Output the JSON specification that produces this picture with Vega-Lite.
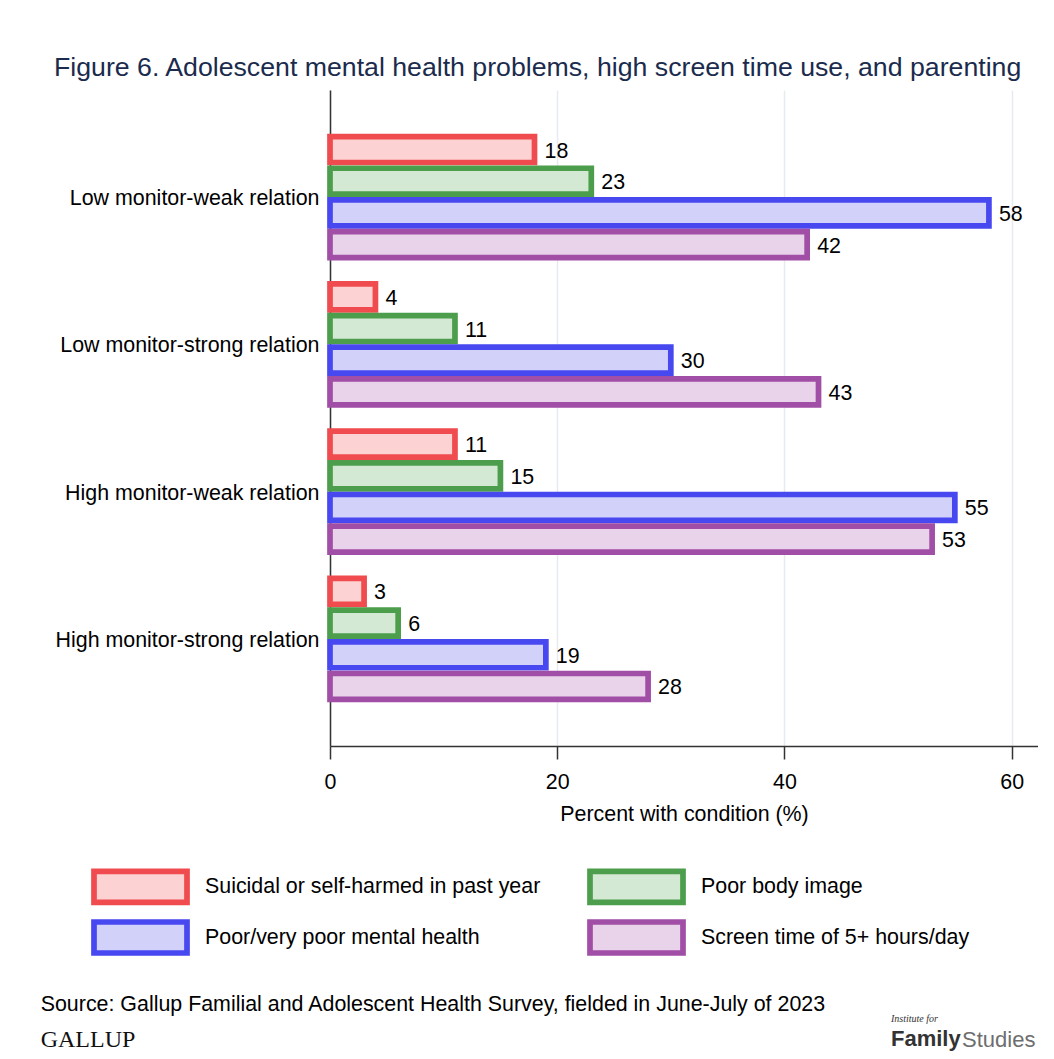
{
  "$schema": "https://vega.github.io/schema/vega-lite/v6.json",
  "background": "white",
  "padding": {"left": 40, "top": 55, "right": 0, "bottom": 0},
  "title": {
    "text": "Figure 6. Adolescent mental health problems, high screen time use, and parenting",
    "anchor": "start",
    "frame": "group",
    "dx": -276,
    "offset": 8,
    "font": "Liberation Sans",
    "fontSize": 26.7,
    "fontWeight": "normal",
    "color": "#1b2b4d"
  },
  "bounds": "flush",
  "spacing": 238,
  "vconcat": [
    {
      "width": 708,
      "height": 656,
      "data": {
        "values": [
          {"parenting": "Low monitor-weak relation", "condition": "Suicidal or self-harmed in past year", "percent": 18},
          {"parenting": "Low monitor-weak relation", "condition": "Poor body image", "percent": 23},
          {"parenting": "Low monitor-weak relation", "condition": "Poor/very poor mental health", "percent": 58},
          {"parenting": "Low monitor-weak relation", "condition": "Screen time of 5+ hours/day", "percent": 42},
          {"parenting": "Low monitor-strong relation", "condition": "Suicidal or self-harmed in past year", "percent": 4},
          {"parenting": "Low monitor-strong relation", "condition": "Poor body image", "percent": 11},
          {"parenting": "Low monitor-strong relation", "condition": "Poor/very poor mental health", "percent": 30},
          {"parenting": "Low monitor-strong relation", "condition": "Screen time of 5+ hours/day", "percent": 43},
          {"parenting": "High monitor-weak relation", "condition": "Suicidal or self-harmed in past year", "percent": 11},
          {"parenting": "High monitor-weak relation", "condition": "Poor body image", "percent": 15},
          {"parenting": "High monitor-weak relation", "condition": "Poor/very poor mental health", "percent": 55},
          {"parenting": "High monitor-weak relation", "condition": "Screen time of 5+ hours/day", "percent": 53},
          {"parenting": "High monitor-strong relation", "condition": "Suicidal or self-harmed in past year", "percent": 3},
          {"parenting": "High monitor-strong relation", "condition": "Poor body image", "percent": 6},
          {"parenting": "High monitor-strong relation", "condition": "Poor/very poor mental health", "percent": 19},
          {"parenting": "High monitor-strong relation", "condition": "Screen time of 5+ hours/day", "percent": 28}
        ]
      },
      "encoding": {
        "y": {
          "field": "parenting",
          "type": "nominal",
          "sort": ["Low monitor-weak relation", "Low monitor-strong relation", "High monitor-weak relation", "High monitor-strong relation"],
          "scale": {"paddingInner": 0.14, "paddingOuter": 0.2967},
          "axis": {
            "title": null,
            "ticks": false,
            "labelPadding": 11,
            "labelOffset": 2,
            "labelFont": "Liberation Sans",
            "labelFontSize": 21.4,
            "labelColor": "#000000",
            "labelLimit": 0,
            "domainColor": "#333333",
            "domainWidth": 1.5,
            "grid": false
          }
        },
        "yOffset": {
          "field": "condition",
          "type": "nominal",
          "sort": ["Suicidal or self-harmed in past year", "Poor body image", "Poor/very poor mental health", "Screen time of 5+ hours/day"],
          "scale": {"paddingInner": 0.18, "paddingOuter": 0.09}
        },
        "x": {
          "field": "percent",
          "type": "quantitative",
          "scale": {"domain": [0, 62.32], "nice": false},
          "axis": {
            "values": [0, 20, 40, 60],
            "title": "Percent with condition (%)",
            "titleFont": "Liberation Sans",
            "titleFontSize": 21.4,
            "titleFontWeight": "normal",
            "titleColor": "#000000",
            "titlePadding": 11,
            "labelFont": "Liberation Sans",
            "labelFontSize": 21.4,
            "labelColor": "#000000",
            "labelPadding": 12,
            "labelFlush": false,
            "tickSize": 13,
            "tickColor": "#333333",
            "tickWidth": 1.5,
            "domainColor": "#333333",
            "domainWidth": 1.5,
            "grid": true,
            "gridColor": "#e6ebf1",
            "gridWidth": 1.5
          }
        }
      },
      "layer": [
        {
          "mark": {"type": "bar", "strokeWidth": 5.7},
          "encoding": {
            "fill": {
              "field": "condition",
              "type": "nominal",
              "scale": {
                "domain": ["Suicidal or self-harmed in past year", "Poor body image", "Poor/very poor mental health", "Screen time of 5+ hours/day"],
                "range": ["#fdd2d3", "#d4e9d4", "#d1d1fa", "#e9d3ea"]
              },
              "legend": {
                "title": null,
                "orient": "none",
                "legendX": -208,
                "legendY": 778,
                "direction": "horizontal",
                "columns": 2,
                "symbolType": "M-3,-1H3V1H-3Z",
                "symbolSize": 961,
                "symbolStrokeWidth": 5.7,
                "symbolOpacity": 1,
                "labelFont": "Liberation Sans",
                "labelFontSize": 21.4,
                "labelColor": "#000000",
                "labelOffset": 46,
                "labelLimit": 0,
                "rowPadding": -4,
                "columnPadding": 37
              }
            },
            "stroke": {
              "field": "condition",
              "type": "nominal",
              "scale": {
                "domain": ["Suicidal or self-harmed in past year", "Poor body image", "Poor/very poor mental health", "Screen time of 5+ hours/day"],
                "range": ["#f04b4e", "#4c9e4c", "#4848f0", "#a14ea6"]
              }
            }
          }
        },
        {
          "mark": {"type": "text", "align": "left", "baseline": "middle", "dx": 10, "dy": 2, "font": "Liberation Sans", "fontSize": 21.4, "color": "#000000"},
          "encoding": {"text": {"field": "percent", "type": "quantitative"}}
        }
      ]
    },
    {
      "bounds": "flush",
      "spacing": 0,
      "hconcat": [
        {
          "width": 561,
          "height": 1,
          "data": {"values": [{}]},
          "mark": {"type": "point", "opacity": 0},
          "title": {
            "text": "Source: Gallup Familial and Adolescent Health Survey, fielded in June-July of 2023",
            "subtitle": "GALLUP",
            "orient": "bottom",
            "anchor": "start",
            "frame": "group",
            "dx": -289.3,
            "offset": 7,
            "font": "Liberation Sans",
            "fontSize": 21.4,
            "fontWeight": "normal",
            "color": "#000000",
            "subtitleFont": "Liberation Serif",
            "subtitleFontSize": 24,
            "subtitleColor": "#111111",
            "subtitlePadding": 12
          }
        },
        {
          "width": 71,
          "height": 1,
          "data": {"values": [{}]},
          "mark": {"type": "point", "opacity": 0},
          "title": {
            "text": "Institute for",
            "subtitle": "Family",
            "orient": "bottom",
            "anchor": "start",
            "frame": "group",
            "offset": 27,
            "font": "Liberation Serif",
            "fontSize": 10,
            "fontStyle": "italic",
            "fontWeight": "normal",
            "color": "#333333",
            "subtitleFont": "Liberation Sans",
            "subtitleFontSize": 22,
            "subtitleFontWeight": "bold",
            "subtitleColor": "#333333",
            "subtitlePadding": 5
          }
        },
        {
          "width": 76,
          "height": 1,
          "data": {"values": [{}]},
          "mark": {"type": "point", "opacity": 0},
          "title": {
            "text": "Studies",
            "orient": "bottom",
            "anchor": "start",
            "frame": "group",
            "offset": 43,
            "font": "Liberation Sans",
            "fontSize": 22,
            "fontWeight": "normal",
            "color": "#6e6e6e"
          }
        }
      ]
    }
  ],
  "config": {
    "view": {"stroke": null},
    "font": "Liberation Sans"
  }
}
